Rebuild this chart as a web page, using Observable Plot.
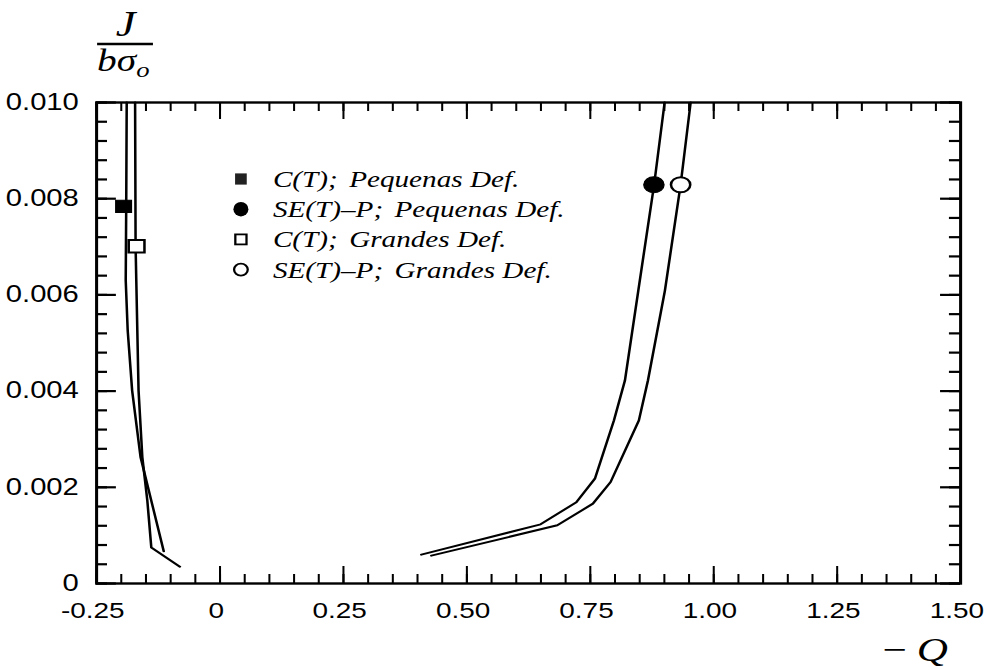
<!DOCTYPE html>
<html><head><meta charset="utf-8">
<script src="https://cdn.jsdelivr.net/npm/d3@7"></script>
<script src="https://cdn.jsdelivr.net/npm/@observablehq/plot@0.6"></script>
<style>
html,body{margin:0;padding:0;background:#fff;}
#chart{width:985px;height:670px;overflow:hidden;}
#chart svg{transform:scaleX(1.2693);transform-origin:0 0;display:block;}
</style></head><body><div id="chart"></div>
<script>
// ---- data ----
const xTicks = [-0.25, 0, 0.25, 0.5, 0.75, 1.0, 1.25, 1.5];
const xTickLabels = ["-0.25", "0", "0.25", "0.50", "0.75", "1.00", "1.25", "1.50"];
const yTicks = [0, 0.002, 0.004, 0.006, 0.008, 0.010];
const yTickLabels = ["0", "0.002", "0.004", "0.006", "0.008", "0.010"];

const seriesNames = ["C(T); Pequenas Def.", "SE(T)-P; Pequenas Def.", "C(T); Grandes Def.", "SE(T)-P; Grandes Def."];

// C(T); Pequenas Def.
const cPeqX = [-0.189, -0.190, -0.191, -0.187, -0.178, -0.161, -0.114];
const cPeqY = [0.0100, 0.00784, 0.00630, 0.00526, 0.00401, 0.00263, 0.00067];
// SE(T)-P; Pequenas Def.
const sePeqX = [0.9005, 0.8792, 0.8472, 0.8201, 0.7978, 0.7593, 0.7217, 0.6493, 0.4077];
const sePeqY = [0.0100, 0.00829, 0.00609, 0.00422, 0.00339, 0.00218, 0.00169, 0.00123, 0.00060];
// C(T); Grandes Def.
const cGraX = [-0.172, -0.171, -0.1696, -0.165, -0.1574, -0.1473, -0.1392, -0.0813];
const cGraY = [0.0100, 0.00701, 0.00630, 0.00401, 0.00263, 0.00173, 0.00075, 0.00035];
// SE(T)-P; Grandes Def.
const seGraX = [0.9532, 0.9329, 0.9011, 0.8667, 0.8484, 0.7911, 0.7553, 0.6832, 0.4280];
const seGraY = [0.0100, 0.00829, 0.00609, 0.00422, 0.00339, 0.00211, 0.00166, 0.00121, 0.00058];

// marker positions (one per series, same order as seriesNames)
const markerX = [-0.1953, 0.8788, -0.169, 0.9329];
const markerY = [0.00784, 0.00829, 0.00701, 0.00829];

// ---- layout ----
const W = 776, H = 670, ML = 75.6, MR = 19.7, MT = 102, MB = 87;
const FW = W - ML - MR, FH = H - MT - MB;
const serif = "'Liberation Serif','DejaVu Serif',serif";
const sans = "'Liberation Sans',Arial,Helvetica,sans-serif";

const rows = (xs, ys, name) => xs.map((x, i) => ({x, y: ys[i], name}));
const lineData = [
  ...rows(cPeqX, cPeqY, seriesNames[0]),
  ...rows(sePeqX, sePeqY, seriesNames[1]),
  ...rows(cGraX, cGraY, seriesNames[2]),
  ...rows(seGraX, seGraY, seriesNames[3])
];
const markers = seriesNames.map((name, i) => ({name, x: markerX[i], y: markerY[i]}));

const xMinor = d3.range(-0.25, 1.5001, 0.05);
const yMinor = d3.range(0, 0.01001, 0.0004);

const plot = Plot.plot({
  width: W, height: H,
  marginLeft: ML, marginRight: MR, marginTop: MT, marginBottom: MB,
  style: {fontFamily: sans, fontSize: "22px", color: "black", background: "white", overflow: "visible"},
  x: {domain: [-0.25, 1.5]},
  y: {domain: [0, 0.010]},
  marks: [
    // inward ticks
    Plot.tickX(xMinor, {x: d => d, stroke: "black", strokeWidth: 1.6, insetTop: FH - 9}),
    Plot.tickX(xTicks, {x: d => d, stroke: "black", strokeWidth: 1.6, insetTop: FH - 17}),
    Plot.tickX(xMinor, {x: d => d, stroke: "black", strokeWidth: 1.6, insetBottom: FH - 9}),
    Plot.tickX(xTicks, {x: d => d, stroke: "black", strokeWidth: 1.6, insetBottom: FH - 17}),
    Plot.tickY(yMinor, {y: d => d, stroke: "black", strokeWidth: 2.2, insetRight: FW - 8.7}),
    Plot.tickY(yTicks, {y: d => d, stroke: "black", strokeWidth: 2.2, insetRight: FW - 15.7}),
    Plot.tickY(yMinor, {y: d => d, stroke: "black", strokeWidth: 2.2, insetLeft: FW - 8.7}),
    Plot.tickY(yTicks, {y: d => d, stroke: "black", strokeWidth: 2.2, insetLeft: FW - 15.7}),
    Plot.frame({stroke: "black", strokeWidth: 2.4}),
    Plot.axisX({ticks: xTicks, tickSize: 0, tickPadding: 19, dx: -3, tickFormat: d => xTickLabels[xTicks.indexOf(d)], fontSize: 22, fontFamily: sans, label: null}),
    Plot.axisY({ticks: yTicks, tickSize: 0, tickPadding: 14, tickFormat: d => yTickLabels[yTicks.indexOf(d)], fontSize: 23, fontFamily: sans, label: null}),
    Plot.line(lineData, {x: "x", y: "y", z: "name", stroke: "black", strokeWidth: 2, strokeLinejoin: "round"}),
    Plot.dot(markers.filter((d, i) => i === 0), {x: "x", y: "y", symbol: "square", r: 7, fill: "black", stroke: "black", strokeWidth: 1}),
    Plot.dot(markers.filter((d, i) => i === 2), {x: "x", y: "y", symbol: "square", r: 7, fill: "white", stroke: "black", strokeWidth: 2}),
    Plot.dot(markers.filter((d, i) => i === 1), {x: "x", y: "y", r: 8, fill: "black", stroke: "black", strokeWidth: 1}),
    Plot.dot(markers.filter((d, i) => i === 3), {x: "x", y: "y", r: 7.6, fill: "white", stroke: "black", strokeWidth: 2})
  ]
});

document.getElementById("chart").appendChild(plot);
const svg = d3.select(plot);

// y-axis title  J / bσo
const g = svg.append("g").attr("font-family", serif).attr("fill", "black").attr("text-anchor", "start");
g.append("text").attr("x", 99).attr("y", 36).attr("text-anchor", "middle")
  .attr("font-style", "italic").attr("font-size", 35).text("J");
g.append("line").attr("x1", 76.5).attr("x2", 120.5).attr("y1", 44).attr("y2", 44)
  .attr("stroke", "black").attr("stroke-width", 2.4);
const den = g.append("text").attr("x", 76.5).attr("y", 71).attr("font-style", "italic").attr("font-size", 31);
den.append("tspan").text("bσ");
den.append("tspan").attr("font-size", 21).attr("dy", 6).text("o");

// x-axis title  − Q
const xt = g.append("text").attr("x", 695).attr("y", 661).attr("font-size", 34);
xt.append("tspan").text("−");
xt.append("tspan").attr("font-style", "italic").attr("dx", 8).text("Q");

// legend
const lg = svg.append("g").attr("font-family", serif).attr("font-style", "italic").attr("font-size", 23).attr("fill", "black").attr("text-anchor", "start");
const legendMarkerX = 189.8, legendTextX = 215;
seriesNames.forEach((name, i) => {
  const yb = 187 + 30.2 * i, yc = yb - 8;
  if (i === 0) lg.append("rect").attr("x", legendMarkerX - 4.6).attr("y", yc - 5.6).attr("width", 9.2).attr("height", 11.2).attr("fill", "#222");
  if (i === 2) lg.append("rect").attr("x", legendMarkerX - 4.4).attr("y", yc - 5).attr("width", 8.8).attr("height", 10).attr("fill", "white").attr("stroke", "black").attr("stroke-width", 1.8);
  if (i === 1) lg.append("ellipse").attr("cx", legendMarkerX).attr("cy", yc).attr("rx", 5.9).attr("ry", 7.2).attr("fill", "black");
  if (i === 3) lg.append("ellipse").attr("cx", legendMarkerX).attr("cy", yc).attr("rx", 5.4).attr("ry", 6).attr("fill", "white").attr("stroke", "black").attr("stroke-width", 1.8);
  const parts = name.split("; ");
  const t = lg.append("text").attr("x", legendTextX).attr("y", yb);
  t.append("tspan").text(parts[0].replace("-", "–") + ";");
  t.append("tspan").attr("dx", 9).text(parts[1]);
});
</script>
</body></html>
